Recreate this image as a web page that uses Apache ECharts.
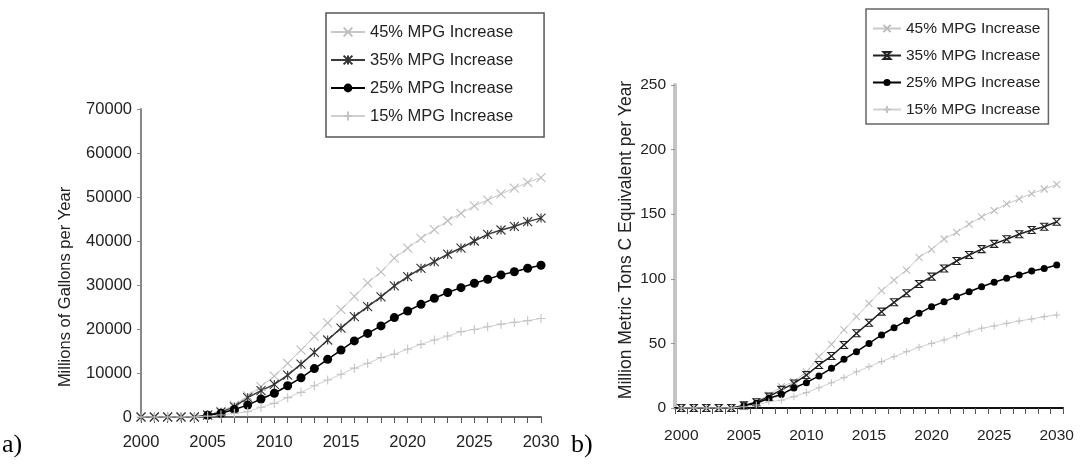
<!DOCTYPE html>
<html>
<head>
<meta charset="utf-8">
<script src="https://cdn.jsdelivr.net/npm/echarts@6/dist/echarts.min.js"></script>
<style>
html,body{margin:0;padding:0;background:#fff;}
#chart{width:1080px;height:464px;}
</style>
</head>
<body>
<div id="chart"></div>
<script>
// ---- data ----
const years = ['2000','2001','2002','2003','2004','2005','2006','2007','2008','2009','2010',
  '2011','2012','2013','2014','2015','2016','2017','2018','2019','2020',
  '2021','2022','2023','2024','2025','2026','2027','2028','2029','2030'];
const seriesNames = ['45% MPG Increase','35% MPG Increase','25% MPG Increase','15% MPG Increase'];

// a) Millions of gallons per year
const gal45 = [0,0,0,0,0,500,1300,2700,4800,6900,9300,12200,15200,18300,21400,24400,27400,30500,33000,36100,38400,40600,42600,44600,46300,48000,49300,50700,52000,53300,54400];
const gal35 = [0,0,0,0,0,450,1100,2300,4400,6000,7400,9500,12000,14700,17500,20200,22800,25100,27300,29800,31900,33800,35300,37000,38400,40000,41500,42500,43300,44400,45200];
const gal25 = [null,null,null,null,null,400,850,1700,2700,4100,5400,7100,8900,11000,13100,15200,17300,19000,20700,22600,24100,25600,27000,28300,29400,30400,31300,32300,33000,33800,34500];
const gal15 = [0,0,0,0,0,200,450,830,1200,2200,3100,4400,5600,7100,8400,9700,11100,12200,13500,14300,15400,16500,17500,18400,19400,19900,20500,21100,21500,21900,22400];

// b) Million metric tons C equivalent per year
const c45 = [0,0,0,0,0,2,5,10,16.5,20.5,28,39.7,49.3,60.4,70.7,81,90.8,99,106.8,116.6,122.8,130.8,136,142.4,148,152.7,158,161.8,166,169.5,173];
const c35 = [0,0,0,0,0,2,4.5,8.8,14,19,25.5,33.3,40.2,48.8,57.8,66,74.6,81.8,88.8,96,101.7,108,113.8,118.4,123,127,130.6,134.5,137.8,140.3,144.2];
const c25 = [null,null,null,null,null,1.8,3.6,7.5,10.5,15.5,19.6,24.8,30.7,37.7,43.6,50,56.5,62.2,67.6,73.3,78.4,82.3,86.2,90,93.9,97.3,100.4,103,106,108,110.7];
const c15 = [0,0,0,0,0,1,2.3,4.9,6,8.8,11.9,15.7,19.6,23.5,28,32,35.9,39.7,43.6,47,50,52.6,56,59,61.7,63.5,65.5,67.3,68.9,70.7,72];

const galTicks = {min:0, max:70000, interval:10000};
const cTicks = {min:0, max:250, interval:50};

// ---- styles ----
const FONT = '"Liberation Sans", Arial, sans-serif';
const SYM_X = 'path://M0,0L10,10M10,0L0,10';
const SYM_AST = 'path://M0,0L10,10M10,0L0,10M5,0L5,10';
const SYM_HG = 'path://M0,0L10,0L0,10L10,10Z';
const SYM_PLUS = 'path://M5,0L5,10M0,5L10,5';

function mk(name, data, xi, sym, size, stroke, lineColor, lw, filled) {
  return {
    name: name, type: 'line', xAxisIndex: xi, yAxisIndex: xi, data: data,
    symbol: sym, symbolSize: size, showSymbol: true, showAllSymbol: true, connectNulls: false,
    lineStyle: {color: lineColor, width: lw},
    itemStyle: filled ? {color: stroke, borderWidth: 0}
                      : {color: 'none', borderColor: stroke, borderWidth: 1.1},
    emphasis: {disabled: true}
  };
}
const Z = '\u200b';
const series = [
  mk(seriesNames[0], gal45, 0, SYM_X, 9, '#bcbcbc', '#c8c8c8', 1, false),
  mk(seriesNames[1], gal35, 0, SYM_AST, 9, '#333', '#3a3a3a', 1.5, false),
  mk(seriesNames[2], gal25, 0, 'circle', 9, '#000', '#000', 1.5, true),
  mk(seriesNames[3], gal15, 0, SYM_PLUS, 9, '#c4c4c4', '#d0d0d0', 1, false),
  mk(seriesNames[0]+Z, c45, 1, SYM_X, 7, '#bcbcbc', '#c8c8c8', 1, false),
  mk(seriesNames[1]+Z, c35, 1, SYM_HG, 7, '#222', '#222', 1.5, false),
  mk(seriesNames[2]+Z, c25, 1, 'circle', 7, '#000', '#000', 1.5, true),
  mk(seriesNames[3]+Z, c15, 1, SYM_PLUS, 7, '#c4c4c4', '#d0d0d0', 1, false)
];
const plain = v => String(v);

const chart = echarts.init(document.getElementById('chart'), null, {renderer: 'canvas'});
chart.setOption({
  animation: false,
  backgroundColor: '#fff',
  textStyle: {fontFamily: FONT},
  grid: [
    {left: 141, top: 109, width: 400, height: 308},
    {left: 675, top: 85, width: 388, height: 323}
  ],
  xAxis: [
    {type: 'category', gridIndex: 0, data: years, boundaryGap: false,
     axisLine: {lineStyle: {color: '#666', width: 2}},
     axisTick: {show: true, interval: 0, length: 6, lineStyle: {color: '#555', width: 1}},
     axisLabel: {interval: 4, fontSize: 16.5, margin: 17, color: '#222', fontFamily: FONT},
     splitLine: {show: false}},
    {type: 'category', gridIndex: 1, data: years, boundaryGap: true,
     axisLine: {lineStyle: {color: '#111', width: 2}},
     axisTick: {show: true, interval: 0, length: 6, lineStyle: {color: '#555', width: 1}},
     axisLabel: {interval: 4, fontSize: 15.5, margin: 20, color: '#222', fontFamily: FONT},
     splitLine: {show: false}}
  ],
  yAxis: [
    {type: 'value', gridIndex: 0, min: galTicks.min, max: galTicks.max, interval: galTicks.interval,
     axisLine: {show: true, lineStyle: {color: '#888', width: 2}},
     axisTick: {show: true, length: 4, lineStyle: {color: '#888'}},
     axisLabel: {fontSize: 16.5, margin: 9, color: '#222', fontFamily: FONT, formatter: plain},
     splitLine: {show: false}},
    {type: 'value', gridIndex: 1, min: cTicks.min, max: cTicks.max, interval: cTicks.interval,
     axisLine: {show: true, lineStyle: {color: '#c4c4c4', width: 4}},
     axisTick: {show: true, length: 4, lineStyle: {color: '#999'}},
     axisLabel: {fontSize: 15.5, margin: 9, color: '#222', fontFamily: FONT, formatter: plain},
     splitLine: {show: false}}
  ],
  legend: [
    {data: seriesNames, orient: 'vertical', left: 326, top: 13,
     padding: [10, 31, 12, 4], itemGap: 10, itemWidth: 34, itemHeight: 11,
     borderColor: '#555', borderWidth: 1.5, backgroundColor: '#fff',
     selectedMode: false,
     textStyle: {fontSize: 16.5, lineHeight: 18, color: '#222', fontFamily: FONT}},
    {data: seriesNames.map(n => n + Z), orient: 'vertical', left: 866, top: 9,
     padding: [11, 8, 6, 6], itemGap: 10, itemWidth: 28, itemHeight: 9,
     borderColor: '#666', borderWidth: 1.5, backgroundColor: '#fff',
     selectedMode: false,
     textStyle: {fontSize: 15.5, lineHeight: 17, color: '#222', fontFamily: FONT}}
  ],
  graphic: [
    {type: 'text', x: 65, y: 287, rotation: Math.PI / 2,
     style: {text: 'Millions of Gallons per Year', font: '16.5px ' + FONT, fill: '#222', align: 'center', verticalAlign: 'middle'}},
    {type: 'text', x: 626, y: 240, rotation: Math.PI / 2,
     style: {text: 'Million Metric Tons C Equivalent per Year', font: '17.5px ' + FONT, fill: '#222', align: 'center', verticalAlign: 'middle'}},
    {type: 'text', x: 2, y: 445,
     style: {text: 'a)', font: '26px "Liberation Serif", "Times New Roman", serif', fill: '#000', align: 'left', verticalAlign: 'middle'}},
    {type: 'text', x: 571, y: 445,
     style: {text: 'b)', font: '26px "Liberation Serif", "Times New Roman", serif', fill: '#000', align: 'left', verticalAlign: 'middle'}}
  ],
  series: series
});
</script>
</body>
</html>
